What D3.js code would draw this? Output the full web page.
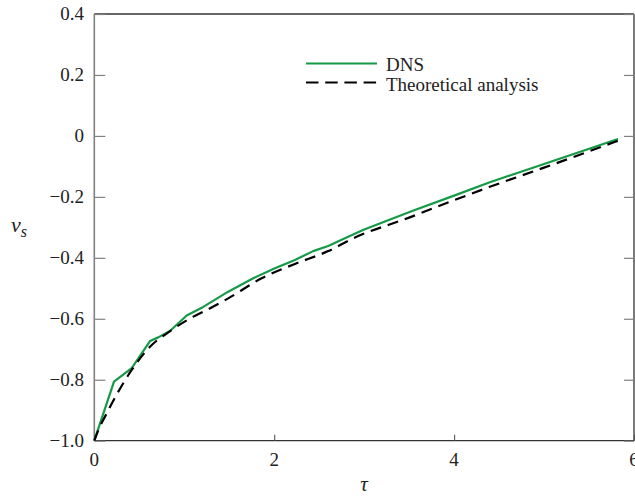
<!DOCTYPE html>
<html><head><meta charset="utf-8">
<script src="https://cdn.jsdelivr.net/npm/d3@7"></script>
<style>html,body{margin:0;padding:0;background:#fff;overflow:hidden}svg{display:block}</style>
</head><body>
<svg id="c" width="635" height="498"></svg>
<script>
const dnsTau = [0, 0.219, 0.416, 0.619, 0.711, 0.841, 1.027, 1.211, 1.489, 1.767, 2.008, 2.23, 2.433, 2.6, 2.786, 3.0, 3.563, 4.0, 4.397, 5.0, 5.822];
const dnsV   = [-1.0, -0.806, -0.762, -0.673, -0.661, -0.640, -0.589, -0.561, -0.511, -0.467, -0.434, -0.407, -0.378, -0.361, -0.336, -0.307, -0.243, -0.196, -0.152, -0.092, -0.010];
const thTau = [0, 0.06, 0.119, 0.267, 0.416, 0.619, 0.86, 1.1, 1.211, 1.489, 1.86, 2.23, 2.6, 2.878, 3.5, 4.0, 4.397, 5.0, 5.822];
const thV   = [-1.0, -0.955, -0.921, -0.839, -0.768, -0.692, -0.637, -0.593, -0.577, -0.533, -0.467, -0.420, -0.378, -0.336, -0.268, -0.211, -0.167, -0.104, -0.016];
const xTicks = [0, 2, 4, 6];
const yTicks = [-1.0, -0.8, -0.6, -0.4, -0.2, 0, 0.2, 0.4];
const seriesNames = ["DNS", "Theoretical analysis"];

const svg = d3.select("#c");
const L = 94.3, R = 634, T = 14, B = 440.7;
const x = d3.scaleLinear().domain([0, 6]).range([L, R]);
const y = d3.scaleLinear().domain([-1.0, 0.4]).range([B, T]);
const font = "'Liberation Serif','Times New Roman',serif";
const fmtY = v => (v < 0 ? "\u2212" : "") + (v === 0 ? "0" : Math.abs(v).toFixed(1));

// frame
svg.append("line").attr("x1", L).attr("x2", R).attr("y1", T).attr("y2", T).attr("stroke", "#333").attr("stroke-width", 1.3);
svg.append("line").attr("x1", R).attr("x2", R).attr("y1", T).attr("y2", B).attr("stroke", "#333").attr("stroke-width", 1.3);
svg.append("line").attr("x1", L).attr("x2", R).attr("y1", B).attr("y2", B).attr("stroke", "#333").attr("stroke-width", 1.3);
svg.append("line").attr("x1", L).attr("x2", L).attr("y1", T).attr("y2", B).attr("stroke", "#808080").attr("stroke-width", 1.6);

// left axis ticks (inward)
const yl = svg.append("g").attr("transform", `translate(${L},0)`)
  .call(d3.axisRight(y).tickValues(yTicks).tickSize(11).tickFormat(""));
yl.select(".domain").remove();
yl.selectAll(".tick line").attr("stroke", "#808080").attr("stroke-width", 1.2);
// right axis ticks (inward)
const yr = svg.append("g").attr("transform", `translate(${R},0)`)
  .call(d3.axisLeft(y).tickValues(yTicks).tickSize(10).tickFormat(""));
yr.select(".domain").remove();
yr.selectAll(".tick line").attr("stroke", "#808080").attr("stroke-width", 1.2);
// bottom ticks (inward)
const xb = svg.append("g").attr("transform", `translate(0,${B})`)
  .call(d3.axisTop(x).tickValues(xTicks).tickSize(6).tickFormat(""));
xb.select(".domain").remove();
xb.selectAll(".tick line").attr("stroke", "#555").attr("stroke-width", 1.1);

// tick labels
svg.append("g").selectAll("text").data(yTicks).join("text")
  .attr("x", 84).attr("y", d => y(d)).attr("dy", "0.34em")
  .attr("text-anchor", "end").attr("font-family", font).attr("font-size", 19).attr("fill", "#222")
  .text(fmtY);
svg.append("g").selectAll("text").data(xTicks).join("text")
  .attr("x", d => x(d)).attr("y", 466).attr("text-anchor", "middle")
  .attr("font-family", font).attr("font-size", 19).attr("fill", "#222")
  .text(d => d);

// axis labels
svg.append("text").attr("x", 364).attr("y", 491).attr("text-anchor", "middle")
  .attr("font-family", font).attr("font-size", 21).attr("font-style", "italic").attr("fill", "#222").text("\u03C4");
const vs = svg.append("text").attr("x", 11).attr("y", 232)
  .attr("font-family", font).attr("font-size", 22).attr("font-style", "italic").attr("fill", "#222");
vs.append("tspan").text("v");
vs.append("tspan").attr("font-size", 16).attr("dy", 5).text("s");

// lines
const line = d3.line().x(d => x(d[0])).y(d => y(d[1]));
const thData = thTau.map((t, i) => [t, thV[i]]);
const dnsData = dnsTau.map((t, i) => [t, dnsV[i]]);
svg.append("path").datum(dnsData).attr("d", line).attr("fill", "none")
  .attr("stroke", "#159a47").attr("stroke-width", 2.2).attr("stroke-linejoin", "round");
svg.append("path").datum(thData).attr("d", line.curve(d3.curveMonotoneX)).attr("fill", "none")
  .attr("stroke", "#000").attr("stroke-width", 2.2).attr("stroke-dasharray", "11,7");

// legend
const leg = svg.append("g");
leg.append("line").attr("x1", 306).attr("x2", 377).attr("y1", 63.5).attr("y2", 63.5)
  .attr("stroke", "#159a47").attr("stroke-width", 2.2);
leg.append("line").attr("x1", 306).attr("x2", 377).attr("y1", 82.5).attr("y2", 82.5)
  .attr("stroke", "#000").attr("stroke-width", 2.2).attr("stroke-dasharray", "12.5,6.7");
leg.selectAll("text").data(seriesNames).join("text")
  .attr("x", 386).attr("y", (d, i) => 71 + i * 19.5)
  .attr("font-family", font).attr("font-size", 19).attr("fill", "#222").text(d => d);
</script>
</body></html>
